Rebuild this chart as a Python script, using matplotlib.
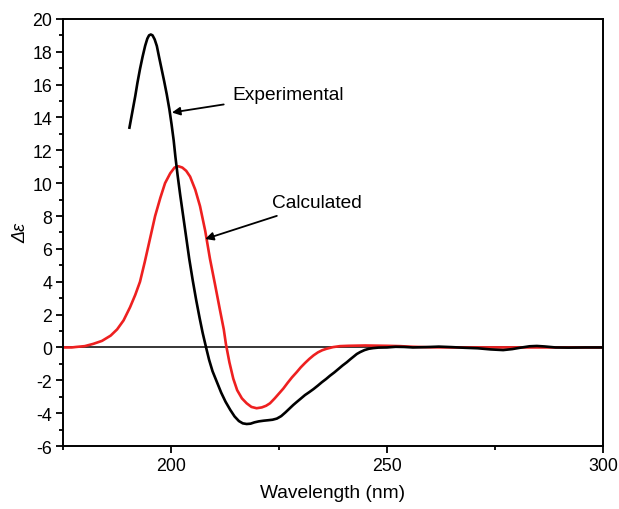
import matplotlib
matplotlib.use("Agg")
import matplotlib.pyplot as plt
from matplotlib.ticker import MultipleLocator

plt.rcParams['font.family'] = ['Liberation Sans', 'DejaVu Sans']
plt.rcParams['axes.unicode_minus'] = False

# Experimental CD spectrum (black)
exp_x = [190.3, 191.0, 191.7, 192.2, 192.8, 193.4, 194.0, 194.5, 194.9, 195.3, 195.7, 196.2,
         196.7, 197.2, 197.8, 198.4, 199.0, 199.6, 200.1, 200.6, 201.0, 201.5, 202.1, 202.8,
         203.5, 204.2, 205.0, 205.8, 206.6, 207.3, 208.1, 208.8, 209.6, 210.6, 211.6, 212.6,
         213.7, 214.7, 215.7, 216.6, 217.5, 218.4, 219.3, 220.3, 221.4, 222.5, 223.5, 224.5,
         225.5, 226.5, 227.5, 228.3, 229.1, 230.1, 231.0, 232.0, 233.0, 234.0, 234.9, 235.9,
         236.8, 237.8, 238.8, 239.7, 240.7, 241.5, 242.3, 243.0, 243.8, 244.8, 245.8, 246.8,
         248.0, 250.0, 252.0, 254.0, 256.0, 259.0, 262.0, 265.0, 268.0, 271.0, 274.0, 276.9,
         279.0, 281.0, 283.0, 284.7, 286.5, 289.0, 292.0, 296.0, 300.0]
exp_y = [13.3, 14.3, 15.3, 16.1, 16.95, 17.7, 18.37, 18.8, 19.0, 19.05, 19.0, 18.75,
         18.35, 17.7, 16.95, 16.2, 15.4, 14.5, 13.6, 12.6, 11.6, 10.5, 9.3, 8.0,
         6.7, 5.4, 4.1, 2.9, 1.8, 0.9, 0.0, -0.75, -1.45, -2.1, -2.75, -3.3,
         -3.8, -4.2, -4.48, -4.62, -4.66, -4.64, -4.56, -4.5, -4.46, -4.43, -4.4, -4.33,
         -4.18, -3.95, -3.7, -3.5, -3.32, -3.1, -2.9, -2.72, -2.53, -2.32, -2.12, -1.92,
         -1.72, -1.52, -1.3, -1.1, -0.9, -0.72, -0.55, -0.4, -0.28, -0.16, -0.08, -0.04,
         -0.01, 0.0, 0.04, 0.03, 0.0, 0.02, 0.05, 0.02, -0.02, -0.05, -0.12, -0.16,
         -0.1, -0.01, 0.07, 0.09, 0.06, 0.0, -0.01, 0.0, 0.0]

# Calculated CD spectrum (red)
calc_x = [175.0, 177.0, 178.0, 180.0, 182.0, 184.0, 186.0, 187.5, 189.0, 190.5, 191.7, 192.8,
          193.9, 195.1, 196.3, 197.5, 198.6, 199.8, 200.8, 201.7, 202.6, 203.5, 204.4, 205.6,
          206.7, 207.9, 209.0, 210.2, 211.3, 212.2, 212.7, 213.5, 214.4, 215.3, 216.4, 217.5,
          218.6, 219.8, 221.0, 222.0, 222.9, 224.0, 225.0, 226.0, 227.0, 228.0, 229.1, 230.0,
          231.0, 232.0, 233.0, 234.0, 235.0, 236.0, 237.5, 239.1, 241.0, 245.0, 250.0, 253.0,
          256.0, 260.0, 265.0, 300.0]
calc_y = [0.0, 0.0, 0.03, 0.08, 0.22, 0.4, 0.72, 1.1, 1.65, 2.45, 3.2, 4.0,
          5.2, 6.6, 8.0, 9.1, 10.0, 10.6, 10.95, 11.03, 10.95, 10.75, 10.4, 9.6,
          8.6, 7.1, 5.4, 3.8, 2.3, 1.1, 0.2, -0.9, -1.9, -2.6, -3.1, -3.4,
          -3.62, -3.7, -3.65, -3.55, -3.4, -3.1, -2.8, -2.5, -2.15, -1.82, -1.5, -1.22,
          -0.95, -0.7, -0.48, -0.3, -0.17, -0.08, 0.02, 0.08, 0.1, 0.12, 0.1, 0.08,
          0.04, 0.01, 0.0, 0.0]

x_ticks = [200, 250, 300]
y_ticks = [-6, -4, -2, 0, 2, 4, 6, 8, 10, 12, 14, 16, 18, 20]

fig = plt.figure(figsize=(6.19, 5.10), dpi=100)
ax = fig.add_axes([0.102, 0.1235, 0.872, 0.8375])

ax.axhline(0, color='black', lw=1.1, zorder=1)
ax.plot(calc_x, calc_y, color='#ee2020', lw=1.9, zorder=2,
        solid_joinstyle='round', solid_capstyle='round')
ax.plot(exp_x, exp_y, color='black', lw=1.9, zorder=3,
        solid_joinstyle='round', solid_capstyle='butt')

ax.set_xlim(175, 300)
ax.set_ylim(-6, 20)
ax.set_xticks(x_ticks)
ax.set_yticks(y_ticks)
ax.xaxis.set_minor_locator(MultipleLocator(25))
ax.yaxis.set_minor_locator(MultipleLocator(1))
ax.tick_params(which='major', direction='out', length=5, width=1.3, labelsize=12.8,
               top=False, right=False, pad=3)
ax.tick_params(which='minor', direction='out', length=3, width=1.3, top=False, right=False)
for s in ax.spines.values():
    s.set_linewidth(1.4)

ax.set_xlabel('Wavelength (nm)', fontsize=13.8, labelpad=7)
ax.set_ylabel('Δε', fontsize=13, style='italic', labelpad=2)

ax.annotate('Experimental', xy=(200.2, 14.3), xytext=(214.1, 15.4),
            fontsize=13.8, va='center', ha='left',
            arrowprops=dict(arrowstyle='-|>', color='black', lw=1.3,
                            mutation_scale=12, shrinkA=4, shrinkB=0))
ax.annotate('Calculated', xy=(207.9, 6.6), xytext=(223.4, 8.8),
            fontsize=13.8, va='center', ha='left',
            arrowprops=dict(arrowstyle='-|>', color='black', lw=1.3,
                            mutation_scale=12, shrinkA=4, shrinkB=0))

fig.savefig('out.png', dpi=100)
